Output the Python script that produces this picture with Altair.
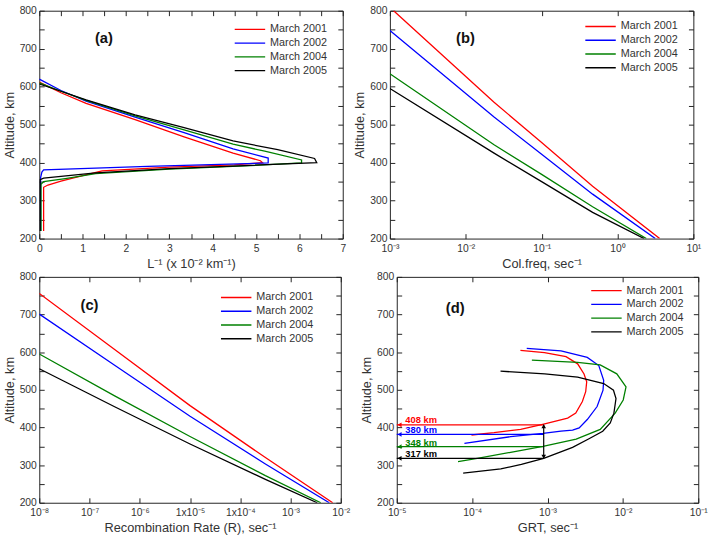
import altair as alt
import pandas as pd

FONT = "Liberation Sans"
SERIES = ["March 2001", "March 2002", "March 2004", "March 2005"]
COLORS = ["#ff0000", "#0000ff", "#008000", "#000000"]

# ---------------- panel (a): L^-1 (x 10^-2 km^-1) vs altitude ----------------
a_x_2001 = [0.1, 0.1, 0.2, 0.5, 1.0, 1.45, 3.0, 4.5, 5.15, 5.1, 4.47, 3.34, 2.21, 1.08, 0.5, 0.0]
a_y_2001 = [220, 335, 341, 351, 366, 378, 388, 394, 400, 405, 425, 468, 513, 556, 584, 612]
a_x_2002 = [0.03, 0.03, 0.06, 0.1, 2.5, 5.28, 5.28, 4.47, 3.34, 2.21, 1.08, 0.5, 0.0]
a_y_2002 = [220, 360, 375, 381, 390, 399, 412, 436, 479, 520, 562, 590, 620]
a_x_2004 = [0.04, 0.04, 0.1, 0.6, 1.3, 3.0, 4.47, 6.05, 6.05, 5.2, 4.47, 3.34, 2.21, 1.08, 0.5, 0.0]
a_y_2004 = [220, 343, 350, 358, 371, 383, 390, 399, 407, 430, 449, 486, 523, 564, 588, 610]
a_x_2005 = [0.02, 0.02, 0.1, 1.3, 3.0, 4.47, 6.4, 6.35, 5.5, 4.47, 3.34, 2.21, 1.08, 0.5, 0.0]
a_y_2005 = [220, 355, 359, 373, 384, 391, 400, 411, 434, 457, 492, 526, 565, 588, 607]

# ---------------- panel (b): collision frequency ----------------
b_x_2001 = [1.12e-3, 2.36e-2, 0.1, 0.47, 3.6]
b_y_2001 = [800, 559, 453, 338, 200]
b_x_2002 = [1e-3, 2.36e-2, 0.1, 0.47, 3.15]
b_y_2002 = [748, 520, 422, 317, 200]
b_x_2004 = [1e-3, 2.36e-2, 0.1, 0.47, 2.4]
b_y_2004 = [634, 447, 369, 284, 200]
b_x_2005 = [1e-3, 2.36e-2, 0.1, 0.47, 2.24]
b_y_2005 = [595, 425, 350, 269, 200]

# ---------------- panel (c): recombination rate ----------------
c_x_2001 = [1e-8, 3.16e-7, 1e-5, 3.16e-4, 6.9e-3]
c_y_2001 = [756, 607, 458, 320, 200]
c_x_2002 = [1e-8, 3.16e-7, 1e-5, 3.16e-4, 5.9e-3]
c_y_2002 = [701, 565, 430, 303, 200]
c_x_2004 = [1e-8, 3.16e-7, 1e-5, 3.16e-4, 4.0e-3]
c_y_2004 = [595, 484, 376, 272, 200]
c_x_2005 = [1e-8, 3.16e-7, 1e-5, 3.16e-4, 3.4e-3]
c_y_2005 = [556, 455, 356, 262, 200]

# ---------------- panel (d): GRT ----------------
d_x_2001 = [4.37e-4, 9.12e-4, 1.76e-3, 2.51e-3, 3.05e-3, 3.31e-3, 3.21e-3, 2.90e-3, 2.37e-3, 1.85e-3, 8.9e-4, 4.4e-4, 1.95e-4, 9.8e-5]
d_y_2001 = [605, 599, 588, 569, 542, 521, 495, 469, 438, 425, 409, 395, 386, 380]
d_x_2002 = [5.3e-4, 1.51e-3, 3.37e-3, 4.79e-3, 5.56e-3, 5.45e-3, 4.55e-3, 3.37e-3, 2.63e-3, 2.15e-3, 1.51e-3, 8.7e-4, 3.24e-4, 7.9e-5]
d_y_2002 = [610, 603.5, 586, 564.5, 525, 499, 455.6, 421, 399, 393, 390, 384, 375.6, 358]
d_x_2004 = [6.2e-4, 2.51e-3, 5.0e-3, 8.3e-3, 1.10e-2, 1.01e-2, 7.9e-3, 5.0e-3, 2.40e-3, 8.7e-4, 3.24e-4, 1.17e-4, 6.5e-5]
d_y_2004 = [579, 573, 566, 542.5, 508, 473, 438, 395, 369, 350, 334, 318, 309]
d_x_2005 = [2.38e-4, 9.2e-4, 2.51e-3, 5.56e-3, 7.5e-3, 8.1e-3, 7.6e-3, 6.8e-3, 5.4e-3, 3.55e-3, 2.15e-3, 8.9e-4, 4.5e-4, 2.4e-4, 7.6e-5]
d_y_2005 = [549.5, 542.5, 534, 516.6, 499, 477, 438, 412, 390, 370, 347, 318, 302, 290, 279]

# panel (d) annotations
d_ref_levels = [407, 381.5, 349, 318]
d_ref_texts = ["408 km", "380 km", "348 km", "317 km"]
d_ref_text_y = [421, 392, 359, 330]
d_ref_x_start = 1.0e-5
d_ref_x_end = 8.9e-4
d_arrow_x = 8.9e-4
d_arrow_bottom = 318
d_arrow_top = 407

# panel tags
tags = ["(a)", "(b)", "(c)", "(d)"]
tag_x = [1.49, 0.0099, 1e-7, 5.96e-5]
tag_y = [729, 728, 726, 718]

Y_VALUES = list(range(200, 801, 50))


def frame(xs_list, ys_list):
    rows = []
    for s, xs, ys in zip(SERIES, xs_list, ys_list):
        for i, (x, y) in enumerate(zip(xs, ys)):
            rows.append({"series": s, "x": x, "y": y, "order": i})
    return pd.DataFrame(rows)


def chain_expr(pairs):
    expr = "''"
    for v, s in reversed(pairs):
        expr = f"abs(datum.value/{v} - 1) < 0.001 ? '{s}' : ({expr})"
    return expr


def panel(df, xscale, xvals, xexpr, xtitle, w, h, legx, legy, tag, tx, ty, extras=()):
    yscale = alt.Scale(domain=[200, 800], nice=False)
    lines = alt.Chart(df).mark_line(strokeWidth=1.3, clip=True).encode(
        x=alt.X("x:Q", scale=xscale, axis=alt.Axis(orient="bottom", values=xvals, labelExpr=xexpr, title=xtitle,
                                                    labelPadding=5, titlePadding=4)),
        y=alt.Y("y:Q", scale=yscale, axis=alt.Axis(orient="left", values=Y_VALUES,
                                                    labelExpr="datum.value % 100 == 0 ? datum.label : ''",
                                                    title="Altitude, km", labelPadding=3, titlePadding=3)),
        color=alt.Color("series:N", scale=alt.Scale(domain=SERIES, range=COLORS),
                        legend=alt.Legend(orient="none", legendX=legx, legendY=legy, title=None,
                                          symbolType="stroke", symbolSize=961, symbolStrokeWidth=1.5,
                                          clipHeight=14, rowPadding=0, padding=0,
                                          labelFont=FONT, labelFontSize=11, labelColor="#333")),
        order="order:Q",
    )
    mirror = alt.Chart(df).mark_point(opacity=0).encode(
        x=alt.X("x:Q", scale=xscale, axis=alt.Axis(orient="top", values=xvals, labels=False, title=None)),
        y=alt.Y("y:Q", scale=yscale, axis=alt.Axis(orient="right", values=Y_VALUES, labels=False, title=None)),
    )
    tdf = pd.DataFrame({"x": [tx], "y": [ty], "t": [tag]})
    tlayer = alt.Chart(tdf).mark_text(font=FONT, fontSize=15, fontWeight="bold", color="#111").encode(
        x=alt.X("x:Q", scale=xscale, axis=None),
        y=alt.Y("y:Q", scale=yscale, axis=None),
        text="t:N",
    )
    layers = [lines, mirror, tlayer] + [e(xscale, yscale) for e in extras]
    return alt.layer(*layers).resolve_axis(x="independent", y="independent").properties(width=w, height=h)


# ---- annotation layers for (d)
def ref_lines(xs, ys):
    df = pd.DataFrame({"x0": [d_ref_x_start] * 4, "x1": [d_ref_x_end] * 4, "y": d_ref_levels, "c": COLORS})
    return alt.Chart(df).mark_rule(strokeWidth=1.2).encode(
        x=alt.X("x0:Q", scale=xs, axis=None), x2="x1:Q",
        y=alt.Y("y:Q", scale=ys, axis=None), color=alt.Color("c:N", scale=None))


def ref_heads(xs, ys):
    df = pd.DataFrame({"x": [d_ref_x_start * 1.09] * 4, "y": d_ref_levels, "c": COLORS})
    return alt.Chart(df).mark_point(shape="triangle-left", filled=True, size=22, opacity=1).encode(
        x=alt.X("x:Q", scale=xs, axis=None), y=alt.Y("y:Q", scale=ys, axis=None),
        color=alt.Color("c:N", scale=None))


def ref_texts(xs, ys):
    df = pd.DataFrame({"x": [1.3e-5] * 4, "y": d_ref_text_y, "t": d_ref_texts, "c": COLORS})
    return alt.Chart(df).mark_text(font=FONT, fontSize=9.5, fontWeight="bold", align="left").encode(
        x=alt.X("x:Q", scale=xs, axis=None), y=alt.Y("y:Q", scale=ys, axis=None),
        text="t:N", color=alt.Color("c:N", scale=None))


def v_arrow(xs, ys):
    df = pd.DataFrame({"x": [d_arrow_x], "y0": [d_arrow_bottom], "y1": [d_arrow_top]})
    return alt.Chart(df).mark_rule(strokeWidth=1.2, color="#000").encode(
        x=alt.X("x:Q", scale=xs, axis=None), y=alt.Y("y0:Q", scale=ys, axis=None), y2="y1:Q")


def v_heads(xs, ys):
    df = pd.DataFrame({"x": [d_arrow_x, d_arrow_x], "y": [d_arrow_top - 4, d_arrow_bottom + 4],
                       "s": ["triangle-up", "triangle-down"]})
    return alt.Chart(df).mark_point(filled=True, size=22, opacity=1, color="#000").encode(
        x=alt.X("x:Q", scale=xs, axis=None), y=alt.Y("y:Q", scale=ys, axis=None),
        shape=alt.Shape("s:N", scale=None))


a_vals = [i * 0.5 for i in range(15)]
a_expr = "datum.value % 1 == 0 ? format(datum.value, 'd') : ''"
b_vals = [1e-3, 1e-2, 1e-1, 1, 10]
b_expr = chain_expr([(1e-3, "10⁻³"), (1e-2, "10⁻²"), (1e-1, "10⁻¹"), (1, "10⁰"), (10, "10¹")])
c_vals = [1e-8, 1e-7, 1e-6, 1e-5, 1e-4, 1e-3, 1e-2]
c_expr = chain_expr([(1e-8, "10⁻⁸"), (1e-7, "10⁻⁷"), (1e-6, "10⁻⁶"), (1e-5, "1x10⁻⁵"),
                     (1e-4, "1x10⁻⁴"), (1e-3, "10⁻³"), (1e-2, "10⁻²")])
d_vals = [1e-5, 1e-4, 1e-3, 1e-2, 1e-1]
d_expr = chain_expr([(1e-5, "10⁻⁵"), (1e-4, "10⁻⁴"), (1e-3, "10⁻³"), (1e-2, "10⁻²"), (1e-1, "10⁻¹")])

pa = panel(frame([a_x_2001, a_x_2002, a_x_2004, a_x_2005], [a_y_2001, a_y_2002, a_y_2004, a_y_2005]),
           alt.Scale(domain=[0, 7], nice=False), a_vals, a_expr, "L⁻¹ (x 10⁻² km⁻¹)",
           309, 232, 198, 12, tags[0], tag_x[0], tag_y[0])
pb = panel(frame([b_x_2001, b_x_2002, b_x_2004, b_x_2005], [b_y_2001, b_y_2002, b_y_2004, b_y_2005]),
           alt.Scale(type="log", domain=[1e-3, 10], nice=False), b_vals, b_expr, "Col.freq, sec⁻¹",
           309, 232, 198, 9, tags[1], tag_x[1], tag_y[1])
pc = panel(frame([c_x_2001, c_x_2002, c_x_2004, c_x_2005], [c_y_2001, c_y_2002, c_y_2004, c_y_2005]),
           alt.Scale(type="log", domain=[1e-8, 1e-2], nice=False), c_vals, c_expr, "Recombination Rate (R), sec⁻¹",
           307, 230, 184, 14, tags[2], tag_x[2], tag_y[2])
pd_ = panel(frame([d_x_2001, d_x_2002, d_x_2004, d_x_2005], [d_y_2001, d_y_2002, d_y_2004, d_y_2005]),
            alt.Scale(type="log", domain=[1e-5, 1e-1], nice=False), d_vals, d_expr, "GRT, sec⁻¹",
            307, 230, 197, 7, tags[3], tag_x[3], tag_y[3],
            extras=(ref_lines, v_arrow, ref_heads, v_heads, ref_texts))

top = alt.hconcat(pa, pb, spacing=6).resolve_scale(color="independent").resolve_legend(color="independent")
bottom = alt.hconcat(pc, pd_, spacing=8).resolve_scale(color="independent").resolve_legend(color="independent")

chart = alt.vconcat(top, bottom, spacing=0).resolve_scale(color="independent").resolve_legend(
    color="independent"
).properties(
    padding={"left": 2, "top": 0, "right": 4, "bottom": 0}, background="white"
).configure_view(
    stroke="#222", strokeWidth=1
).configure_axis(
    domain=False, grid=False, tickSize=5, offset=-5, tickColor="#222", tickWidth=1,
    labelFont=FONT, labelFontSize=10.5, labelColor="#333",
    labelFlush=False, labelOverlap=False,
    titleFont=FONT, titleFontSize=13, titleFontWeight="normal", titleColor="#333",
)

chart.save("out.html", embed_options={"renderer": "svg", "actions": False})
